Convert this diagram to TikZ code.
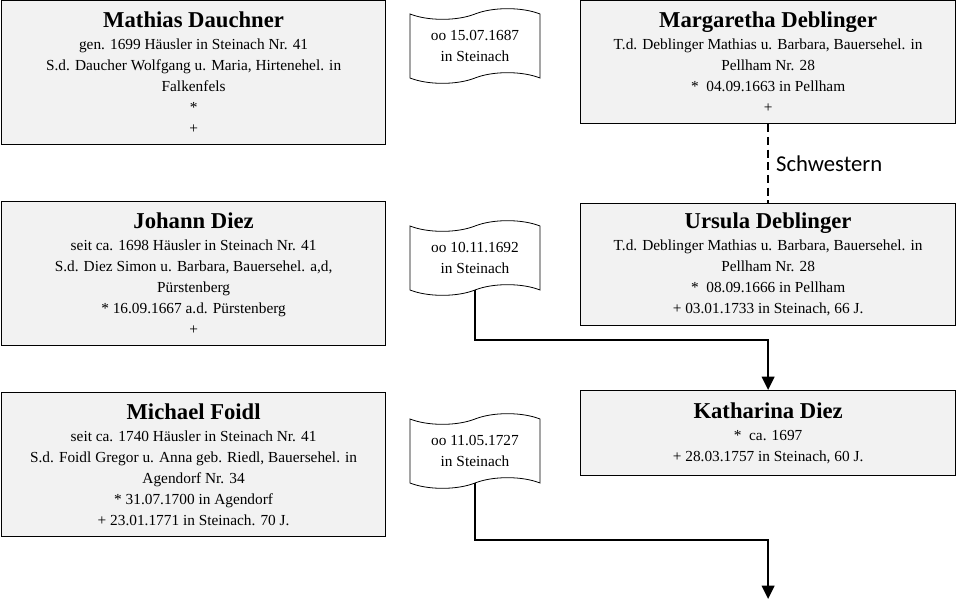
\documentclass[tikz,border=0pt]{standalone}
\usepackage{fontspec}
\setmainfont{Liberation Serif}
\newfontfamily\carlito{Carlito}
\usepackage{tikz}
\usetikzlibrary{arrows,arrows.meta,shapes.symbols}
\definecolor{boxgray}{HTML}{F2F2F2}
\newcommand{\pname}[1]{{\fontsize{17}{20}\selectfont\bfseries #1}}

\begin{document}
\begin{tikzpicture}[x=0.75pt,y=-0.75pt]
\tikzset{person/.style = {shape=rectangle,draw,line width=0.9pt,fill=boxgray,anchor=north west,align=center,inner sep=2pt,font=\fontsize{11.5}{15.75}\selectfont}}
\tikzset{wedding/.style = {shape=tape,draw,line width=0.6pt,tape bend height=8pt,minimum width=97.5pt,minimum height=56pt,align=center,inner sep=1pt,font=\fontsize{11.5}{15.75}\selectfont}}
\tikzset{edge/.style = {-,line width=1.4pt,> = {Triangle[length=10pt,width=9.5pt]}}}
\useasboundingbox (0,0) rectangle (956,613);
\node[person,minimum width=288pt,minimum height=108pt] (mathias) at (1,0) {\pname{Mathias Dauchner}\\[1pt]gen. 1699 Häusler in Steinach Nr. 41\\S.d. Daucher Wolfgang u. Maria, Hirtenehel. in\\Falkenfels\\*\\+};
\node[person,minimum width=281.25pt,minimum height=92.25pt] (margaretha) at (580,0) {\pname{Margaretha Deblinger}\\[1pt]T.d. Deblinger Mathias u. Barbara, Bauersehel. in\\Pellham Nr. 28\\*\enspace 04.09.1663 in Pellham\\+};
\node[person,minimum width=288pt,minimum height=108pt] (johann) at (1,201) {\pname{Johann Diez}\\[1pt]seit ca. 1698 Häusler in Steinach Nr. 41\\S.d. Diez Simon u. Barbara, Bauersehel. a,d,\\Pürstenberg\\* 16.09.1667 a.d. Pürstenberg\\+};
\node[person,minimum width=281.25pt,minimum height=91.5pt] (ursula) at (580,203) {\pname{Ursula Deblinger}\\[1pt]T.d. Deblinger Mathias u. Barbara, Bauersehel. in\\Pellham Nr. 28\\*\enspace 08.09.1666 in Pellham\\+ 03.01.1733 in Steinach, 66 J.};
\node[person,minimum width=281.25pt,minimum height=63.75pt] (katharina) at (580,390) {\pname{Katharina Diez}\\[1pt]*\enspace ca. 1697\\+ 28.03.1757 in Steinach, 60 J.};
\node[person,minimum width=288pt,minimum height=108pt] (michael) at (1,392) {\pname{Michael Foidl}\\[1pt]seit ca. 1740 Häusler in Steinach Nr. 41\\S.d. Foidl Gregor u. Anna geb. Riedl, Bauersehel. in\\Agendorf Nr. 34\\* 31.07.1700 in Agendorf\\+ 23.01.1771 in Steinach. 70 J.};
\node[wedding] (oo1) at (475,46) {oo 15.07.1687\\in Steinach};
\node[wedding] (oo2) at (475,258) {oo 10.11.1692\\in Steinach};
\node[wedding] (oo3) at (475,451) {oo 11.05.1727\\in Steinach};
\coordinate (bend2) at (katharina.north |- 0,340);
\coordinate (bend3) at (katharina.south |- 0,540);
\coordinate (child3) at (katharina.south |- 0,599);
\draw[edge,dashed,dash pattern=on 6pt off 3.5pt] (margaretha.south) -- (ursula.north) node[midway,right=2pt] (sisters) {\carlito\fontsize{17}{20}\selectfont Schwestern};
\draw[edge,->] (oo2.south) |- (bend2) -- (katharina.north);
\draw[edge,->] (oo3.south) |- (bend3) -- (child3);
\end{tikzpicture}
\end{document}
